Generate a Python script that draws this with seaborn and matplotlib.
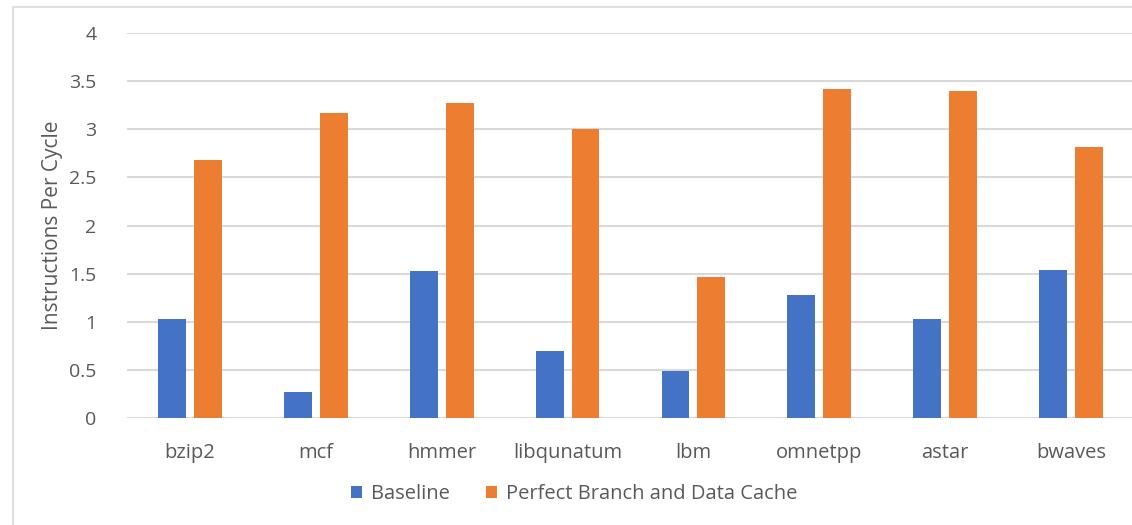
import matplotlib
matplotlib.use("Agg")
import matplotlib.pyplot as plt
from matplotlib.patches import Rectangle
import seaborn as sns
import pandas as pd

benchmarks = ["bzip2", "mcf", "hmmer", "libqunatum", "lbm", "omnetpp", "astar", "bwaves"]
baseline = [1.03, 0.27, 1.53, 0.70, 0.49, 1.28, 1.03, 1.54]
perfect = [2.68, 3.17, 3.27, 3.00, 1.47, 3.42, 3.40, 2.82]
series_names = ["Baseline", "Perfect Branch and Data Cache"]
y_ticks = [0, 0.5, 1, 1.5, 2, 2.5, 3, 3.5, 4]
y_tick_labels = ["0", "0.5", "1", "1.5", "2", "2.5", "3", "3.5", "4"]

df = pd.DataFrame({
    "benchmark": benchmarks * 2,
    "ipc": baseline + perfect,
    "config": [series_names[0]] * len(benchmarks) + [series_names[1]] * len(benchmarks),
})

sns.set_theme(style="white")
plt.rcParams["font.family"] = ["Open Sans", "DejaVu Sans"]
text_color = "#595959"
grid_color = "#D9D9D9"

W, H = 1132, 525
fig = plt.figure(figsize=(W / 100, H / 100), dpi=100)
ax = fig.add_axes([127 / W, 1 - 418 / H, (1134 - 127) / W, (418 - 33) / H])

sns.barplot(
    data=df, x="benchmark", y="ipc", hue="config",
    palette=["#4472C4", "#ED7D31"], width=0.57, gap=0.22,
    saturation=1, linewidth=0, ax=ax, legend=True,
)

ax.set_ylim(0, 4)
ax.set_xlim(-0.5, len(benchmarks) - 0.5)
ax.set_yticks(y_ticks)
ax.set_yticklabels(y_tick_labels)
ax.yaxis.grid(True, color=grid_color, linewidth=1.5)
ax.set_axisbelow(True)
for s in ax.spines.values():
    s.set_visible(False)
ax.tick_params(axis="both", length=0, colors=text_color)
ax.tick_params(axis="y", pad=22, labelsize=14)
ax.tick_params(axis="x", pad=18, labelsize=14.5)
ax.set_xlabel("")
ax.set_ylabel("Instructions Per Cycle", fontsize=15, color=text_color)
ax.yaxis.set_label_coords((63 - 127) / (1134 - 127), 0.5)

leg = ax.legend(
    loc="center", bbox_to_anchor=(574 / W, 1 - 494 / H), bbox_transform=fig.transFigure,
    ncol=2, frameon=False, fontsize=14.5, handlelength=0.55, handleheight=0.55,
    handletextpad=0.45, columnspacing=1.8, labelcolor=text_color,
)

fig.patches.append(Rectangle((12.5 / W, -0.1), 1.2, 1 - 7 / H + 0.1,
                             transform=fig.transFigure, fill=False,
                             edgecolor=grid_color, linewidth=1.2))

fig.savefig("out.png", dpi=100)
